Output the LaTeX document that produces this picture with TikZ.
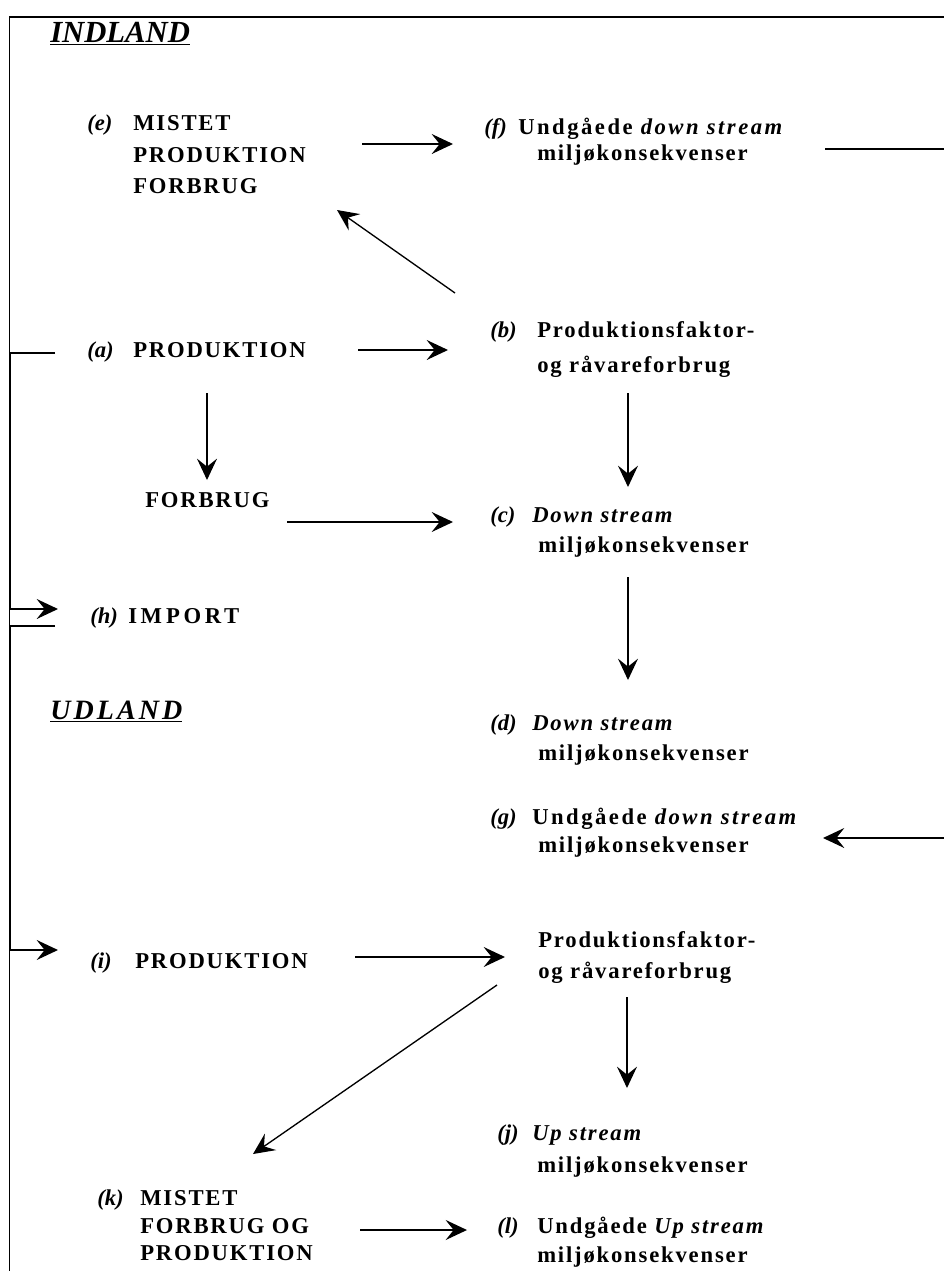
\documentclass[tikz,border=0pt]{standalone}
\usepackage{fontspec}
\setmainfont{Liberation Serif}
\newfontfamily\spacedfont[LetterSpace=8]{Liberation Serif}
\newfontfamily\widefont[LetterSpace=11]{Liberation Serif}
\newfontfamily\importfont[LetterSpace=16]{Liberation Serif}
\usetikzlibrary{arrows.meta}

\tikzset{
  lbl/.style={anchor=base west, inner sep=0pt, font=\fontsize{17pt}{20pt}\selectfont\bfseries\itshape},
  txt/.style={anchor=base west, inner sep=0pt, font=\fontsize{17pt}{20pt}\selectfont\spacedfont\bfseries},
  widetxt/.style={txt, font=\fontsize{17pt}{20pt}\selectfont\widefont\bfseries},
  land/.style={anchor=base west, inner sep=0pt, font=\fontsize{23pt}{25pt}\selectfont\bfseries\itshape},
  arr/.style={-{Stealth[length=16pt,width=15pt,inset=6pt]}, line width=1pt},
  conn/.style={line width=1pt},
  frame/.style={line width=1.4pt}
}

\begin{document}
\begin{tikzpicture}[x=0.75pt,y=-0.75pt]
\useasboundingbox (0,0) rectangle (943,1271);

% ramme
\draw[frame] (9.5,1290) -- (9.5,17) -- (960,17);

% INDLAND
\node[land] (indland) at (50,42) {\underline{INDLAND}};

\node[lbl] (e-lbl) at (87,130) {(e)};
\node[txt] (e1) at (133,130) {MISTET};
\node[txt] (e2) at (133,162) {PRODUKTION};
\node[txt] (e3) at (133,193) {FORBRUG};

\node[lbl] (f-lbl) at (484,134) {(f)};
\node[widetxt] (f1) at (518,134) {Undgåede \textit{down stream}};
\node[txt] (f2) at (537,160) {miljøkonsekvenser};

\node[lbl] (a-lbl) at (87,357) {(a)};
\node[txt] (a1) at (133,357) {PRODUKTION};

\node[lbl] (b-lbl) at (490,337) {(b)};
\node[txt] (b1) at (537,337) {Produktionsfaktor-};
\node[txt] (b2) at (537,372) {og råvareforbrug};

\node[txt] (forbrug) at (145,507) {FORBRUG};

\node[lbl] (c-lbl) at (490,522) {(c)};
\node[txt] (c1) at (532,522) {\textit{Down stream}};
\node[txt] (c2) at (538,552) {miljøkonsekvenser};

\node[lbl] (h-lbl) at (90,623) {(h)};
\node[txt, font=\fontsize{17pt}{20pt}\selectfont\importfont\bfseries] (h1) at (128,623) {IM\kern3pt PORT};

% UDLAND
\node[land, font=\fontsize{21pt}{24pt}\selectfont\widefont\bfseries\itshape] (udland) at (50,719) {\underline{UDLAND}};

\node[lbl] (d-lbl) at (490,730) {(d)};
\node[txt] (d1) at (532,730) {\textit{Down stream}};
\node[txt] (d2) at (538,760) {miljøkonsekvenser};

\node[lbl] (g-lbl) at (490,824) {(g)};
\node[widetxt] (g1) at (532,824) {Undgåede \textit{down stream}};
\node[txt] (g2) at (538,852) {miljøkonsekvenser};

\node[lbl] (i-lbl) at (90,968) {(i)};
\node[txt] (i1) at (135,968) {PRODUKTION};

\node[txt] (p1) at (538,947) {Produktionsfaktor-};
\node[txt] (p2) at (538,978) {og råvareforbrug};

\node[lbl] (j-lbl) at (497,1140) {(j)};
\node[txt] (j1) at (532,1140) {\textit{Up stream}};
\node[txt] (j2) at (537,1172) {miljøkonsekvenser};

\node[lbl] (k-lbl) at (97,1205) {(k)};
\node[txt] (k1) at (140,1205) {MISTET};
\node[txt] (k2) at (140,1233) {FORBRUG OG};
\node[txt] (k3) at (140,1260) {PRODUKTION};

\node[lbl] (l-lbl) at (497,1233) {(l)};
\node[txt] (l1) at (537,1233) {Undgåede \textit{Up stream}};
\node[txt] (l2) at (537,1262) {miljøkonsekvenser};

% endepunkter for pile
\coordinate (e-out) at (362,144);  \coordinate (f-in) at (453,144);
\coordinate (f-out) at (825,149);  \coordinate (f-far) at (960,149);
\coordinate (b-up) at (455,293);   \coordinate (e-in) at (337,210);
\coordinate (a-out) at (358,350);  \coordinate (b-in) at (448,350);
\coordinate (a-down) at (207,393); \coordinate (forbrug-in) at (207,480);
\coordinate (b-down) at (628,393); \coordinate (c-in) at (628,487);
\coordinate (forbrug-out) at (287,522); \coordinate (c-left) at (453,522);
\coordinate (c-down) at (628,577); \coordinate (d-in) at (628,680);
\coordinate (a-left) at (55,353);  \coordinate (a-bend) at (10.5,353);
\coordinate (h-bend) at (10.5,609);  \coordinate (h-in) at (58,609);
\coordinate (h-left) at (55,626);  \coordinate (h-bend2) at (10.5,626);
\coordinate (i-bend) at (10.5,950);  \coordinate (i-in) at (58,950);
\coordinate (g-far) at (960,838);  \coordinate (g-in) at (823,838);
\coordinate (i-out) at (355,957);  \coordinate (p-in) at (505,957);
\coordinate (p-diag) at (497,985); \coordinate (k-in) at (253,1154);
\coordinate (p-down) at (627,997); \coordinate (j-in) at (627,1088);
\coordinate (k-out) at (360,1230); \coordinate (l-in) at (467,1230);

\draw[arr] (e-out) -- (f-in);
\draw[conn] (f-out) -- (f-far);
\draw[arr] (b-up) -- (e-in);
\draw[arr] (a-out) -- (b-in);
\draw[arr] (a-down) -- (forbrug-in);
\draw[arr] (b-down) -- (c-in);
\draw[arr] (forbrug-out) -- (c-left);
\draw[arr] (c-down) -- (d-in);
\draw[arr] (a-left) -- (a-bend) -- (h-bend) -- (h-in);
\draw[arr] (h-left) -- (h-bend2) -- (i-bend) -- (i-in);
\draw[arr] (g-far) -- (g-in);
\draw[arr] (i-out) -- (p-in);
\draw[arr] (p-diag) -- (k-in);
\draw[arr] (p-down) -- (j-in);
\draw[arr] (k-out) -- (l-in);
\end{tikzpicture}
\end{document}
